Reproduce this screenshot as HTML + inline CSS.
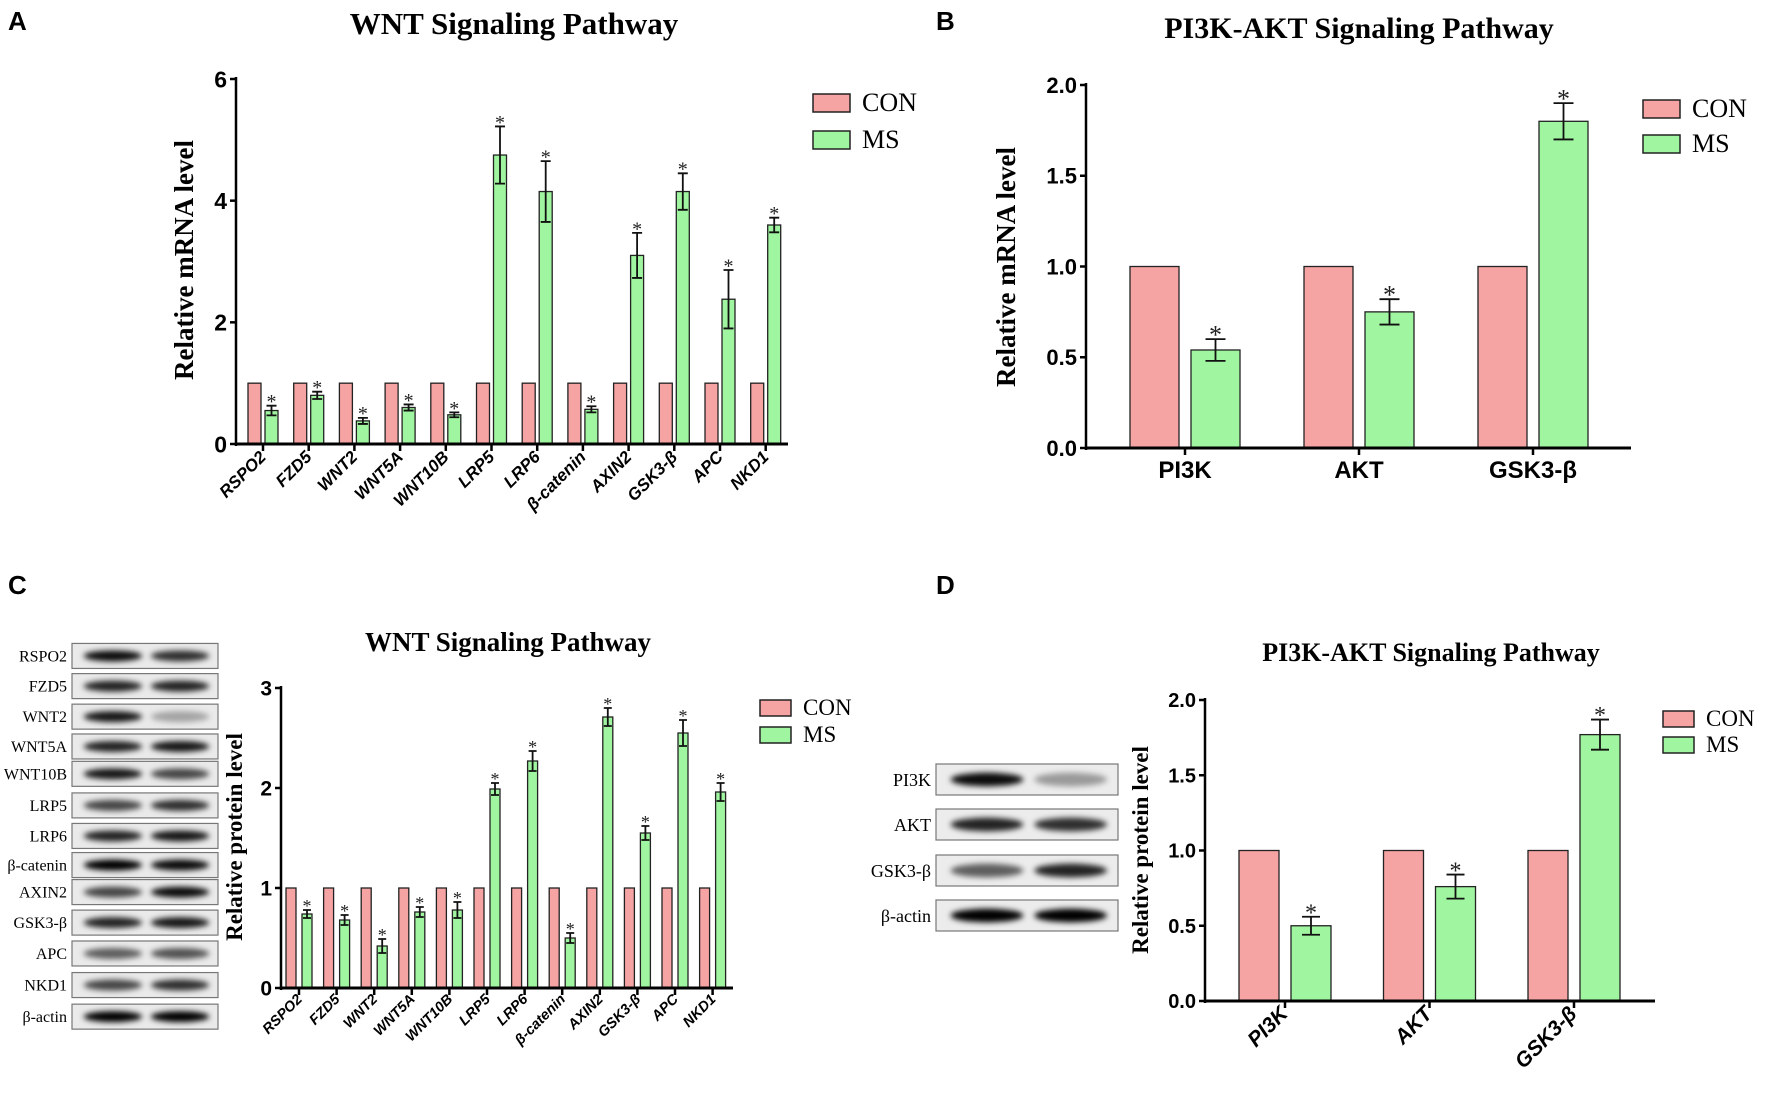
<!DOCTYPE html>
<html><head><meta charset="utf-8"><style>
html,body{margin:0;padding:0;background:#fff;}
svg{display:block;}
</style></head><body>
<svg id="fig" width="1772" height="1097" viewBox="0 0 1772 1097" xmlns="http://www.w3.org/2000/svg">
<defs><filter id="blur" x="-20%" y="-50%" width="140%" height="200%"><feGaussianBlur stdDeviation="3"/></filter></defs>
</svg>
<script>
// ---- Data ----
const wntGenes = ["RSPO2","FZD5","WNT2","WNT5A","WNT10B","LRP5","LRP6","β-catenin","AXIN2","GSK3-β","APC","NKD1"];
const aCon = [1,1,1,1,1,1,1,1,1,1,1,1];
const aMs = [0.55,0.8,0.38,0.6,0.48,4.75,4.15,0.57,3.1,4.15,2.38,3.6];
const aErr = [0.08,0.06,0.05,0.05,0.04,0.47,0.5,0.05,0.37,0.3,0.48,0.12];
const aTicks = [0,2,4,6];
const pathGenes = ["PI3K","AKT","GSK3-β"];
const bCon = [1,1,1];
const bMs = [0.54,0.75,1.8];
const bErr = [0.06,0.07,0.1];
const bTicks = [0,0.5,1,1.5,2];
const cCon = [1,1,1,1,1,1,1,1,1,1,1,1];
const cMs = [0.74,0.68,0.42,0.76,0.78,1.99,2.27,0.5,2.71,1.55,2.55,1.96];
const cErr = [0.04,0.05,0.07,0.05,0.08,0.06,0.1,0.05,0.09,0.07,0.13,0.09];
const cTicks = [0,1,2,3];
const dCon = [1,1,1];
const dMs = [0.5,0.76,1.77];
const dErr = [0.06,0.08,0.1];
const dTicks = [0,0.5,1,1.5,2];

const NS="http://www.w3.org/2000/svg";
const svg=document.getElementById('fig');
function mk(tag,attrs,parent,text){const e=document.createElementNS(NS,tag);for(const k in attrs)e.setAttribute(k,attrs[k]);if(text!==undefined)e.textContent=text;(parent||svg).appendChild(e);return e;}
const RED="#f5a3a3", GRN="#a0f5a0";

function chart(o){
  const g=mk('g',{});
  
  
  const y=v=>o.y0-(v/o.ymax)*(o.y0-o.ytop);
  const cx=i=>o.first+i*o.step;
  const t=mk('text',{x:o.tx,y:o.ty,'text-anchor':'middle','font-family':'"Liberation Serif",serif','font-weight':'bold','font-size':o.tfs},g,o.title);
  
  
  const yl=mk('text',{x:0,y:0,transform:`translate(${o.ylx},${o.yly}) rotate(-90)`,'text-anchor':'middle','font-family':'"Liberation Serif",serif','font-weight':'bold','font-size':o.ylfs},g,o.ylabel);
  
  
  o.cats.forEach((c,i)=>{
    const xc=cx(i);
    const r1=mk('rect',{x:xc-o.gap-o.bw,y:y(o.con[i]),width:o.bw,height:o.y0-y(o.con[i]),fill:RED,stroke:'#222','stroke-width':1.3},g);
    
    
    const r2=mk('rect',{x:xc+o.gap,y:y(o.ms[i]),width:o.bw,height:o.y0-y(o.ms[i]),fill:GRN,stroke:'#222','stroke-width':1.3},g);
    
    
    const mx=xc+o.gap+o.bw/2, hi=y(o.ms[i]+o.err[i]), lo=y(o.ms[i]-o.err[i]), cw=o.cap;
    const eb=mk('path',{d:`M${mx},${hi}V${lo}M${mx-cw},${hi}H${mx+cw}M${mx-cw},${lo}H${mx+cw}`,stroke:'#111','stroke-width':1.8,fill:'none'},g);
    
    
    const st=mk('text',{x:mx,y:hi-4+o.starfs*0.32,'text-anchor':'middle','font-family':'"Liberation Serif",serif','font-size':o.starfs,fill:'#222'},g,'*');
    
    
    mk('line',{x1:xc,y1:o.y0,x2:xc,y2:o.y0+7,stroke:'#000','stroke-width':2.5},g);
    let lab;
    if(o.rot){
      lab=mk('text',{x:0,y:0,transform:`translate(${xc+4},${o.y0+o.lofs}) rotate(-45)`,'text-anchor':'end','font-family':'"Liberation Sans",sans-serif','font-weight':'bold','font-style':'italic','font-size':o.xfs},g,c);
    } else {
      lab=mk('text',{x:xc,y:o.y0+o.lofs,'text-anchor':'middle','font-family':'"Liberation Sans",sans-serif','font-weight':'bold','font-size':o.xfs},g,c);
    }
    
    
  });
  mk('line',{x1:o.ax,y1:o.ytop-2,x2:o.ax,y2:o.y0+2,stroke:'#000','stroke-width':2.5},g);
  mk('line',{x1:o.ax,y1:o.y0,x2:o.xend,y2:o.y0,stroke:'#000','stroke-width':3},g);
  o.ticks.forEach(v=>{
    mk('line',{x1:o.ax-6,y1:y(v),x2:o.ax,y2:y(v),stroke:'#000','stroke-width':2.5},g);
    const tl=mk('text',{x:o.ax-9,y:y(v)+o.yfs*0.36,'text-anchor':'end','font-family':'"Liberation Sans",sans-serif','font-weight':'bold','font-size':o.yfs},g,o.fmt(v));
    
    
  });
  [[RED,'CON',o.l1],[GRN,'MS',o.l2]].forEach(([f,n,ly])=>{
    const lg=mk('g',{},g);
    
    
    mk('rect',{x:o.lx,y:ly,width:o.lw,height:o.lh,fill:f,stroke:'#222','stroke-width':1.5},lg);
    mk('text',{x:o.lx+o.lw+12,y:ly+o.lh-1,'font-family':'"Liberation Serif",serif','font-size':o.lfs},lg,n);
  });
}

chart({name:'chart-a-wnt-mrna',title:'WNT Signaling Pathway',tx:514,ty:34,tfs:31,ylabel:'Relative mRNA level',ylx:193,yly:260,ylfs:27,
 cats:wntGenes,con:aCon,ms:aMs,err:aErr,ticks:aTicks,fmt:v=>String(v),ymax:6,y0:444,ytop:79,ax:236,xend:788,first:263,step:45.7,bw:13,gap:2,cap:5,starfs:20,
 xfs:17,yfs:23,rot:true,lofs:14,lx:813,l1:94,l2:131,lw:37,lh:18,lfs:26});
chart({name:'chart-b-pi3k-mrna',title:'PI3K-AKT Signaling Pathway',tx:1359,ty:38,tfs:30,ylabel:'Relative mRNA level',ylx:1015,yly:267,ylfs:27,
 cats:pathGenes,con:bCon,ms:bMs,err:bErr,ticks:bTicks,fmt:v=>v.toFixed(1),ymax:2,y0:448,ytop:85,ax:1086,xend:1631,first:1185,step:174,bw:49,gap:6,cap:10,starfs:26,
 xfs:24,yfs:22,rot:false,lofs:30,lx:1643,l1:100,l2:135,lw:37,lh:18,lfs:26});
chart({name:'chart-c-wnt-protein',title:'WNT Signaling Pathway',tx:508,ty:651,tfs:27,ylabel:'Relative protein level',ylx:242,yly:837,ylfs:23,
 cats:wntGenes,con:cCon,ms:cMs,err:cErr,ticks:cTicks,fmt:v=>String(v),ymax:3,y0:988,ytop:688,ax:281,xend:733,first:299,step:37.6,bw:10,gap:3,cap:4,starfs:18,
 xfs:14.5,yfs:21,rot:true,lofs:12,lx:760,l1:700,l2:727,lw:31,lh:16,lfs:23});
chart({name:'chart-d-pi3k-protein',title:'PI3K-AKT Signaling Pathway',tx:1431,ty:661,tfs:26,ylabel:'Relative protein level',ylx:1148,yly:850,ylfs:23,
 cats:pathGenes,con:dCon,ms:dMs,err:dErr,ticks:dTicks,fmt:v=>v.toFixed(1),ymax:2,y0:1001,ytop:700,ax:1205,xend:1655,first:1285,step:144.5,bw:40,gap:6,cap:9,starfs:24,
 xfs:21,yfs:20,rot:true,lofs:14,lx:1663,l1:711,l2:737,lw:31,lh:16,lfs:23});

[['A',8,30],['B',936,30],['C',8,594],['D',936,594]].forEach(([l,x,yy])=>{
  const e=mk('text',{x:x,y:yy,'font-family':'"Liberation Sans",sans-serif','font-weight':'bold','font-size':26},svg,l);
  
  
});

const cBlots=["RSPO2","FZD5","WNT2","WNT5A","WNT10B","LRP5","LRP6","β-catenin","AXIN2","GSK3-β","APC","NKD1","β-actin"];
const cBlotTop=[272,358,445,530,608,698,785,868,945,1032,1120,1210,1300];
const cBand1=[0.95,0.85,0.9,0.85,0.9,0.7,0.85,1,0.7,0.85,0.6,0.7,1];
const cBand2=[0.8,0.85,0.3,0.9,0.7,0.8,0.9,0.95,0.95,0.9,0.65,0.8,1];
function blot(name,x,yT,w,h,labx,i1,i2,fs,bg){
  const g=mk('g',{});
  
  
  mk('rect',{x:x,y:yT,width:w,height:h,fill:bg,stroke:'#777','stroke-width':1.2},g);
  const l1x=x+w*0.28, l2x=x+w*0.74;
  mk('ellipse',{cx:l1x,cy:yT+h/2,rx:w*0.2,ry:h*0.22,fill:'#000','fill-opacity':i1,filter:'url(#blur)'},g);
  mk('ellipse',{cx:l2x,cy:yT+h/2,rx:w*0.2,ry:h*0.22,fill:'#000','fill-opacity':i2,filter:'url(#blur)'},g);
  mk('text',{x:labx,y:yT+h/2+fs*0.35,'text-anchor':'end','font-family':'"Liberation Serif",serif','font-size':fs},g,name);
}
cBlots.forEach((n,i)=>{const t=548+cBlotTop[i]/2.85;blot(n,72,t,146,25,67,cBand1[i],cBand2[i],16,'#eaeaea');});
const dBlots=["PI3K","AKT","GSK3-β","β-actin"];
const dBlotTop=[764,809,855,900];
const dBand1=[0.95,0.85,0.6,1];
const dBand2=[0.35,0.8,0.85,1];
dBlots.forEach((n,i)=>blot(n,936,dBlotTop[i],182,31,931,dBand1[i],dBand2[i],18,'#ececec'));
</script>
</body></html>
